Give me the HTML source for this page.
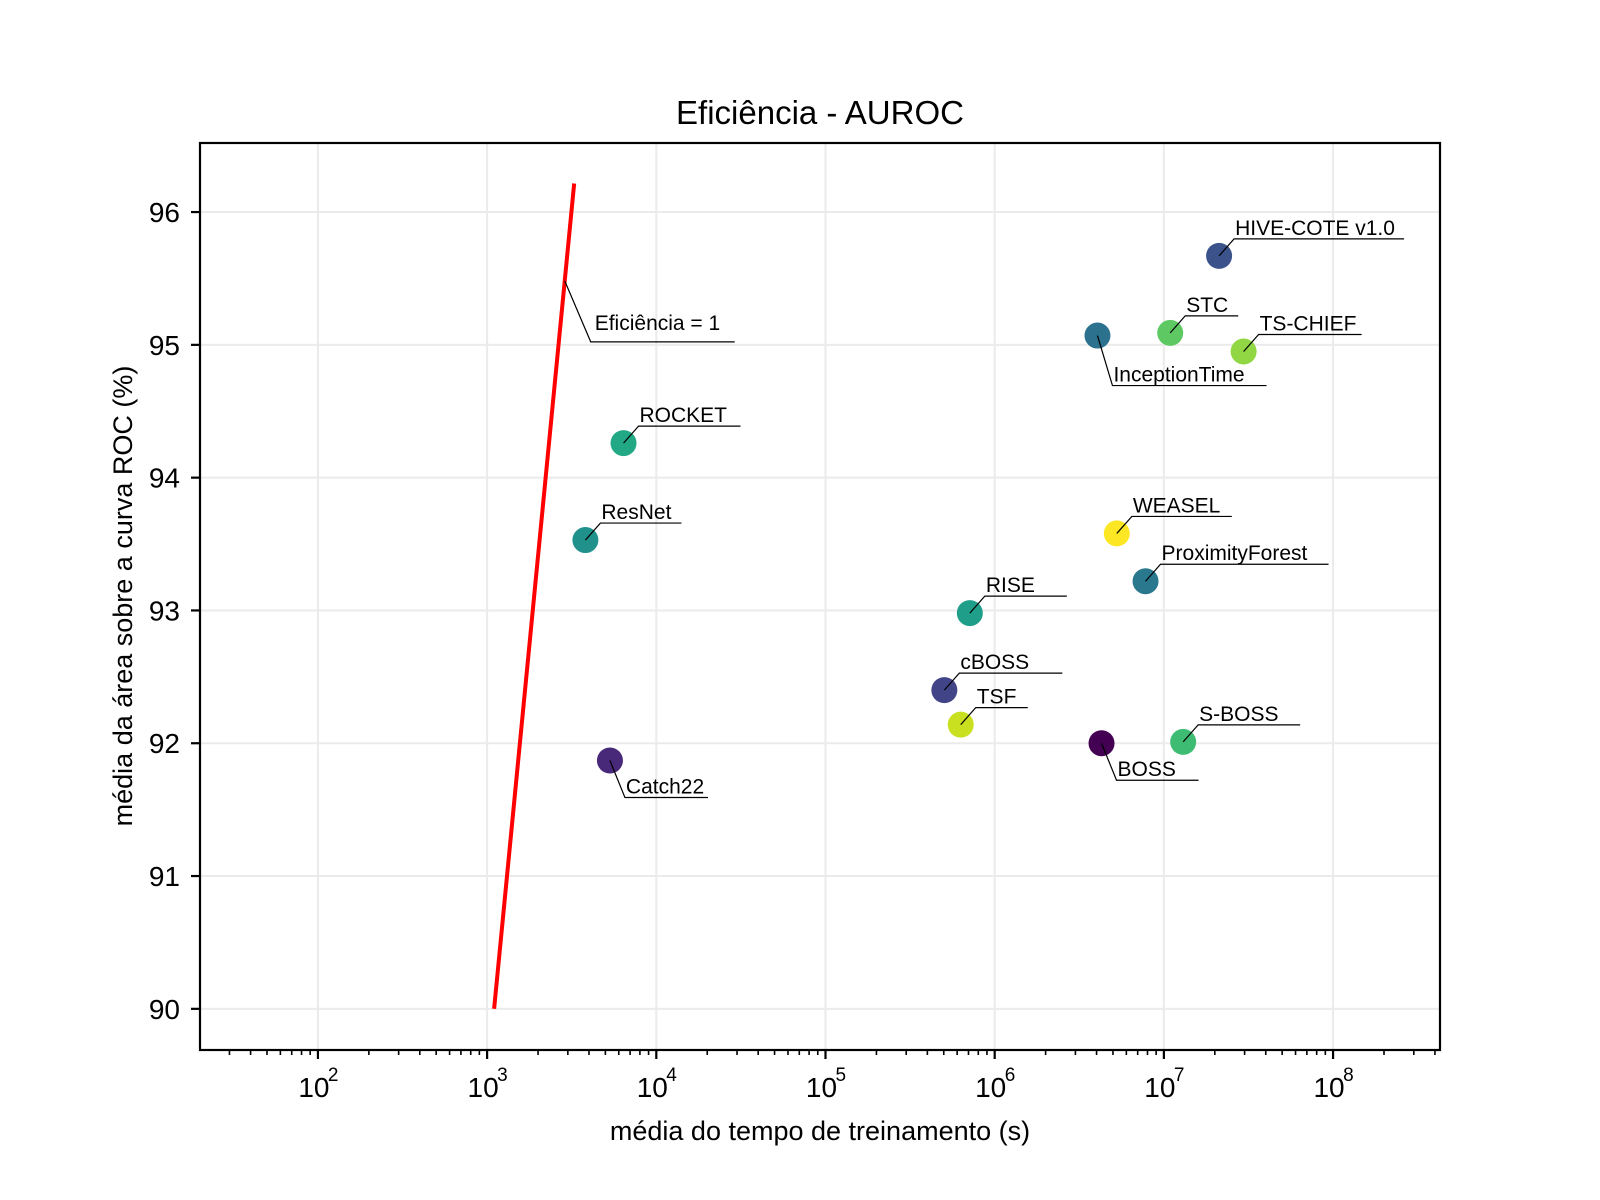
<!DOCTYPE html>
<html><head><meta charset="utf-8"><style>
html,body{margin:0;padding:0;background:#fff;}
svg{display:block;font-family:"Liberation Sans",Arial,sans-serif;}
</style></head><body>
<svg id="chart" width="1600" height="1200" viewBox="0 0 1600 1200" xmlns="http://www.w3.org/2000/svg">
<rect width="1600" height="1200" fill="#fff"/>
<text x="820" y="124" font-size="33" text-anchor="middle">Eficiência - AUROC</text>
<text x="820" y="1140" font-size="27" text-anchor="middle">média do tempo de treinamento (s)</text>
<text transform="translate(132,596) rotate(-90)" font-size="27" text-anchor="middle">média da área sobre a curva ROC (%)</text>
<g id="grid"></g>
<g id="marks"></g>
<g id="axes"></g>
</svg>
<script>
const methods = ["HIVE-COTE v1.0","STC","TS-CHIEF","InceptionTime","ROCKET","ResNet","WEASEL","ProximityForest","RISE","cBOSS","TSF","BOSS","S-BOSS","Catch22"];
const trainTime = [2.12e7,1.09e7,2.96e7,4.05e6,6.4e3,3.81e3,5.27e6,7.79e6,7.13e5,5.04e5,6.3e5,4.28e6,1.30e7,5.32e3];
const auroc = [95.67,95.09,94.95,95.07,94.26,93.53,93.58,93.22,92.98,92.40,92.14,92.00,92.01,91.87];
const colors = ["#3b528b","#5ec962","#90d743","#2c718e","#22a884","#21918c","#fde725","#2a788e","#1f9e89","#414487","#c8e020","#440154","#3fbc73","#482878"];
const labelBelow = [false,false,false,true,false,false,false,false,false,false,false,true,false,true];
const underlineLen = [170,53,103,154,102,81,100,168,82,103,52,82,102,83];
const lineX = [1.1e3,3.27e3];
const lineY = [90,96.215];
const xTickExps = [2,3,4,5,6,7,8];
const yTicks = [90,91,92,93,94,95,96];

const L=200,R=1440,T=143,B=1050;
const xMinL=1.303,xMaxL=8.632,yMin=89.69,yMax=96.52;
const sx=v=>L+(Math.log10(v)-xMinL)/(xMaxL-xMinL)*(R-L);
const sy=v=>B-(v-yMin)/(yMax-yMin)*(B-T);
const NS="http://www.w3.org/2000/svg";
function mk(tag,attrs,parent){const e=document.createElementNS(NS,tag);for(const k in attrs)e.setAttribute(k,attrs[k]);parent.appendChild(e);return e;}
const grid=document.getElementById('grid'),marks=document.getElementById('marks'),axes=document.getElementById('axes');

xTickExps.forEach(p=>{const x=sx(Math.pow(10,p));
  const g=mk('line',{x1:x,x2:x,y1:T,y2:B,stroke:'#ebebeb','stroke-width':2},grid);
  
  
});
yTicks.forEach(v=>{const y=sy(v);
  const g=mk('line',{x1:L,x2:R,y1:y,y2:y,stroke:'#ebebeb','stroke-width':2},grid);
  
  
});

const ln=mk('line',{x1:sx(lineX[0]),y1:sy(lineY[0]),x2:sx(lineX[1]),y2:sy(lineY[1]),stroke:'#ff0000','stroke-width':4},marks);


{const t=0.882;const ax=sx(lineX[0])+(sx(lineX[1])-sx(lineX[0]))*t, ay=sy(lineY[0])+(sy(lineY[1])-sy(lineY[0]))*t;
 const ex=ax+26, ey=ay+61;
 const p=mk('polyline',{points:`${ax},${ay} ${ex},${ey} ${ex+144},${ey}`,fill:'none',stroke:'#000','stroke-width':1.2},marks);
 
 
 const tx=mk('text',{x:ex+4,y:ey-12,'font-size':21},marks);tx.textContent='Eficiência = 1';
 
 
}

methods.forEach((m,i)=>{
  const cx=sx(trainTime[i]),cy=sy(auroc[i]);
  const c=mk('circle',{cx:cx,cy:cy,r:13,fill:colors[i]},marks);
  
  
  const ex=cx+15, ey=labelBelow[i]?cy+(i===3?50:37):cy-17;
  const p=mk('polyline',{points:`${cx},${cy} ${ex},${ey} ${ex+underlineLen[i]},${ey}`,fill:'none',stroke:'#000','stroke-width':1.2},marks);
  
  
  const tx=mk('text',{x:ex+1,y:ey-4,'font-size':21},marks);tx.textContent=m;
  
  
});

const fr=mk('rect',{x:L,y:T,width:R-L,height:B-T,fill:'none',stroke:'#000','stroke-width':2.2},axes);


xTickExps.forEach(p=>{const x=sx(Math.pow(10,p));
  const t=mk('line',{x1:x,x2:x,y1:B,y2:B+9,stroke:'#000','stroke-width':2.2},axes);
  
  
  const tx=mk('text',{x:x-4,y:1097,'font-size':28,'text-anchor':'middle'},axes);
  tx.textContent='10';
  
  
  const sp=mk('text',{x:x+10,y:1081,'font-size':19},axes);
  sp.textContent=String(p);
  
  
});
for(let p=1;p<=8;p++){for(let k=2;k<=9;k++){const v=k*Math.pow(10,p);const lv=Math.log10(v);
  if(lv<xMinL||lv>xMaxL)continue;const x=sx(v);
  const t=mk('line',{x1:x,x2:x,y1:B,y2:B+5,stroke:'#000','stroke-width':1.6},axes);
  
  
}}
yTicks.forEach(v=>{const y=sy(v);
  const t=mk('line',{x1:L-9,x2:L,y1:y,y2:y,stroke:'#000','stroke-width':2.2},axes);
  
  
  const tx=mk('text',{x:180,y:y+10,'font-size':28,'text-anchor':'end'},axes);
  tx.textContent=String(v);
  
  
});
</script>
</body></html>
